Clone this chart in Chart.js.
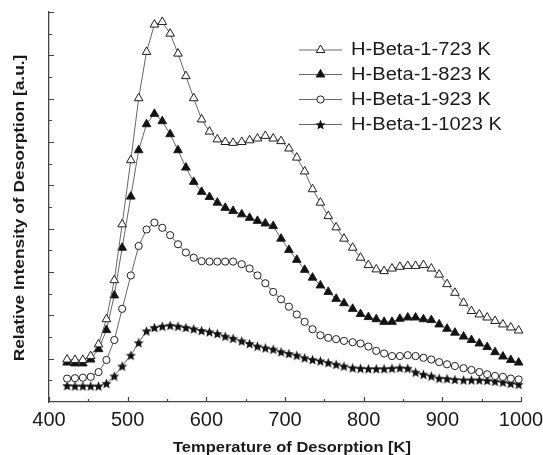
<!DOCTYPE html>
<html>
<head>
<meta charset="utf-8">
<script src="https://cdn.jsdelivr.net/npm/chart.js@4.4.0/dist/chart.umd.min.js"></script>
<style>
html,body{margin:0;padding:0;background:#fff;}
#wrap{width:543px;height:455px;position:relative;}
</style>
</head>
<body>
<div id="wrap"><canvas id="c" width="543" height="455"></canvas></div>
<script>
// ---- data ----
const temps = [423,433,443,453,463,473,483,493,504,514,524,534,544,554,564,574,584,594,604,614,624,634,645,655,665,675,685,695,705,715,725,735,745,755,765,775,786,796,806,816,826,836,846,856,866,876,886,896,906,916,927,937,947,957,967,977,987,997];
const seriesNames = ['H-Beta-1-723 K','H-Beta-1-823 K','H-Beta-1-923 K','H-Beta-1-1023 K'];
const s723 = [0.98,0.97,0.97,1.06,1.33,1.91,2.81,4.10,5.58,7.01,8.08,8.71,8.77,8.50,8.04,7.52,7.01,6.52,6.24,6.06,6.00,5.98,6.00,6.04,6.08,6.14,6.08,6.02,5.85,5.64,5.32,4.91,4.60,4.29,4.03,3.77,3.56,3.33,3.16,3.06,3.02,3.08,3.12,3.14,3.14,3.16,3.08,2.94,2.72,2.52,2.29,2.10,2.02,1.95,1.87,1.79,1.72,1.65];
const s823 = [0.91,0.89,0.89,0.98,1.22,1.66,2.46,3.56,4.74,5.81,6.41,6.65,6.48,6.18,5.81,5.41,5.08,4.85,4.73,4.60,4.48,4.41,4.33,4.25,4.18,4.12,4.06,3.77,3.51,3.28,3.05,2.87,2.69,2.54,2.38,2.28,2.15,2.03,1.96,1.91,1.85,1.85,1.92,1.95,1.95,1.91,1.89,1.79,1.69,1.60,1.51,1.43,1.35,1.27,1.15,1.05,0.97,0.91];
const s923 = [0.54,0.55,0.56,0.58,0.69,0.97,1.43,2.15,2.92,3.60,3.98,4.14,4.02,3.85,3.64,3.45,3.33,3.25,3.24,3.24,3.24,3.24,3.18,3.08,2.92,2.74,2.54,2.37,2.20,2.02,1.85,1.68,1.54,1.48,1.45,1.41,1.38,1.35,1.28,1.18,1.12,1.06,1.06,1.08,1.06,1.02,0.98,0.92,0.87,0.83,0.78,0.74,0.69,0.64,0.60,0.58,0.54,0.52];
const s1023 = [0.38,0.37,0.37,0.37,0.37,0.43,0.60,0.83,1.08,1.37,1.64,1.72,1.75,1.77,1.75,1.72,1.69,1.65,1.62,1.58,1.52,1.47,1.41,1.35,1.29,1.25,1.22,1.16,1.12,1.08,1.02,0.98,0.95,0.91,0.87,0.83,0.79,0.78,0.77,0.77,0.77,0.78,0.79,0.78,0.69,0.64,0.60,0.55,0.54,0.52,0.51,0.51,0.51,0.50,0.48,0.46,0.43,0.41];
const xTickLabels = [400,500,600,700,800,900,1000];
const xTitle = 'Temperature of Desorption [K]';
const yTitle = 'Relative Intensity of Desorption [a.u.]';

// ---- styles ----
const FONT = "'Liberation Sans', Arial, Helvetica, sans-serif";
const lineColor = '#666';
const markColor = '#1e1e1e';
const axisColor = '#444';
const textColor = '#1a1a1a';

function makeStar(size, color) {
  const c = document.createElement('canvas');
  c.width = c.height = size;
  const g = c.getContext('2d');
  const cx = size / 2, R = size / 2 - 0.2, r = R * 0.45;
  g.beginPath();
  for (let k = 0; k < 10; k++) {
    const a = -Math.PI / 2 + k * Math.PI / 5;
    const rr = k % 2 ? r : R;
    g.lineTo(cx + rr * Math.cos(a), cx + rr * Math.sin(a) + 0.6);
  }
  g.closePath();
  g.fillStyle = color;
  g.fill();
  return c;
}
const starImg = makeStar(11, '#111');

function pts(arr) { return temps.map((t, i) => ({x: t, y: arr[i]})); }

const styles = [
  {pointStyle: 'triangle', pointRadius: 5, fill: '#fff'},
  {pointStyle: 'triangle', pointRadius: 5, fill: '#111'},
  {pointStyle: 'circle', pointRadius: 3.6, fill: '#fff'},
  {pointStyle: starImg, pointRadius: 5.5, fill: '#111'}
];
const seriesData = [s723, s823, s923, s1023];

const datasets = seriesData.map((arr, k) => ({
  label: seriesNames[k],
  data: pts(arr),
  borderColor: lineColor,
  borderWidth: 1,
  tension: 0,
  pointStyle: styles[k].pointStyle,
  pointRadius: styles[k].pointRadius,
  pointBackgroundColor: styles[k].fill,
  pointBorderColor: markColor,
  pointBorderWidth: 1,
  clip: 8
}));

function drawMarker(ctx, k, x, y) {
  const st = styles[k];
  ctx.save();
  ctx.fillStyle = st.fill;
  ctx.strokeStyle = markColor;
  ctx.lineWidth = 1;
  if (st.pointStyle === 'triangle') {
    const r = st.pointRadius;
    ctx.beginPath();
    ctx.moveTo(x, y - r);
    ctx.lineTo(x + r * 0.866, y + r / 2);
    ctx.lineTo(x - r * 0.866, y + r / 2);
    ctx.closePath();
    ctx.fill(); ctx.stroke();
  } else if (st.pointStyle === 'circle') {
    ctx.beginPath();
    ctx.arc(x, y, st.pointRadius, 0, Math.PI * 2);
    ctx.fill(); ctx.stroke();
  } else {
    ctx.drawImage(starImg, x - starImg.width / 2, y - starImg.height / 2);
  }
  ctx.restore();
}

const decor = {
  id: 'decor',
  afterDraw(chart) {
    const ctx = chart.ctx, xs = chart.scales.x, ys = chart.scales.y;
    const ca = chart.chartArea;
    ctx.save();
    // inward tick marks
    ctx.strokeStyle = axisColor;
    ctx.lineWidth = 1.2;
    ctx.beginPath();
    for (let v = 400; v <= 1000; v += 50) {
      const px = Math.round(xs.getPixelForValue(v)) + 0.5;
      const len = v % 100 === 0 ? 5 : 3;
      ctx.moveTo(px, ca.bottom);
      ctx.lineTo(px, ca.bottom - len);
    }
    for (let v = 0.5; v <= 9; v += 0.5) {
      const py = Math.round(ys.getPixelForValue(v)) + 0.5;
      const len = Number.isInteger(v) ? 5 : 3;
      ctx.moveTo(ca.left, py);
      ctx.lineTo(ca.left + len, py);
    }
    ctx.stroke();

    // legend
    const lx0 = 299, lx1 = 342, mx = 320.5, tx = 351;
    const rowY = [49.5, 74, 99, 124];
    ctx.font = '17.5px ' + FONT;
    ctx.textBaseline = 'middle';
    ctx.fillStyle = textColor;
    seriesNames.forEach((name, k) => {
      const y = rowY[k];
      ctx.strokeStyle = lineColor;
      ctx.lineWidth = 1;
      ctx.beginPath();
      ctx.moveTo(lx0, y + 0.5); ctx.lineTo(lx1, y + 0.5);
      ctx.stroke();
      drawMarker(ctx, k, mx, y + 0.5);
      ctx.save();
      ctx.translate(tx, y + 1);
      ctx.scale(1.15, 1);
      ctx.fillStyle = textColor;
      ctx.fillText(name, 0, 0);
      ctx.restore();
    });

    // axis titles
    ctx.font = 'bold 15px ' + FONT;
    ctx.fillStyle = textColor;
    ctx.textAlign = 'center';
    ctx.textBaseline = 'alphabetic';
    ctx.save();
    ctx.translate(292, 451.5);
    ctx.scale(1.1, 1);
    ctx.fillText(xTitle, 0, 0);
    ctx.restore();

    ctx.font = 'bold 14px ' + FONT;
    ctx.save();
    ctx.translate(23.5, (ca.top + ca.bottom) / 2 + 1);
    ctx.rotate(-Math.PI / 2);
    ctx.scale(1.24, 1);
    ctx.fillText(yTitle, 0, 0);
    ctx.restore();
    ctx.restore();
  }
};

new Chart(document.getElementById('c'), {
  type: 'line',
  data: {datasets},
  options: {
    responsive: false,
    animation: false,
    devicePixelRatio: 1,
    layout: {padding: {left: 0, right: 22, top: 12, bottom: 0}},
    plugins: {legend: {display: false}, tooltip: {enabled: false}},
    scales: {
      x: {
        type: 'linear',
        min: 400, max: 1000,
        grid: {display: false, drawTicks: false},
        border: {display: true, color: axisColor, width: 1.3},
        afterBuildTicks: s => { s.ticks = xTickLabels.map(v => ({value: v})); },
        ticks: {
          padding: 6, color: textColor, maxRotation: 0, autoSkip: false,
          font: {family: FONT, size: 20},
          callback: v => String(v)
        },
        afterFit: s => { s.height = 53; s.paddingLeft = 0; s.paddingRight = 0; }
      },
      y: {
        min: 0, max: 9,
        grid: {display: false, drawTicks: false},
        border: {display: true, color: axisColor, width: 1.3},
        ticks: {display: false},
        afterFit: s => { s.width = 49; s.paddingTop = 0; s.paddingBottom = 0; }
      }
    }
  },
  plugins: [decor]
});
</script>
</body>
</html>
